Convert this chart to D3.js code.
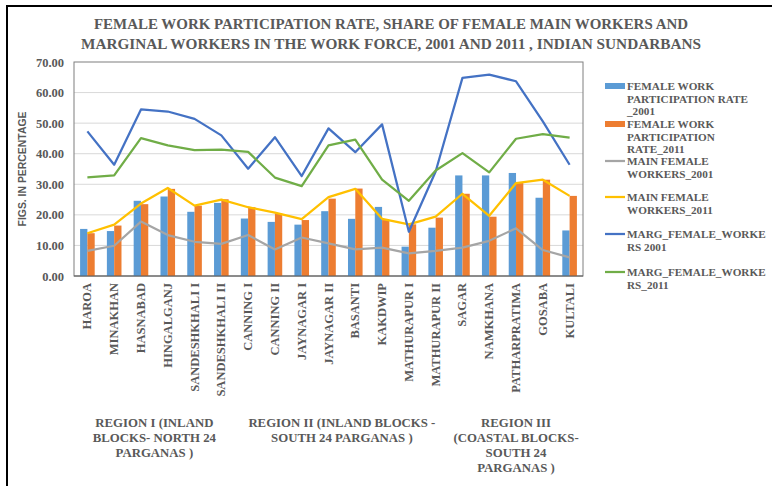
<!DOCTYPE html>
<html>
<head>
<meta charset="utf-8">
<script src="https://cdn.jsdelivr.net/npm/d3@7"></script>
<style>
  body { margin: 0; background: #fff; }
  svg { display: block; }
  text { font-family: "Liberation Serif", "Times New Roman", serif; font-weight: bold; fill: #595959; }
</style>
</head>
<body>
<svg id="chart" width="772" height="486"></svg>
<script>
// blocks of the Indian Sundarbans, in figure order
var categories = ['HAROA', 'MINAKHAN', 'HASNABAD', 'HINGALGANJ', 'SANDESHKHALI I', 'SANDESHKHALI II',
  'CANNING I', 'CANNING II', 'JAYNAGAR I', 'JAYNAGAR II', 'BASANTI', 'KAKDWIP', 'MATHURAPUR I',
  'MATHURAPUR II', 'SAGAR', 'NAMKHANA', 'PATHARPRATIMA', 'GOSABA', 'KULTALI'];

var fwpr2001 = [15.4, 14.7, 24.6, 26.0, 21.0, 23.9, 18.8, 17.7, 16.8, 21.2, 18.7, 22.6, 9.6, 15.8, 32.9, 32.9, 33.7, 25.6, 14.9];
var fwpr2011 = [14.0, 16.5, 23.5, 28.5, 23.0, 25.1, 22.5, 20.4, 18.3, 25.3, 28.6, 18.3, 16.9, 19.1, 26.9, 19.4, 30.4, 31.5, 26.2];
var main2001 = [8.2, 9.9, 17.8, 13.4, 11.2, 10.5, 13.4, 8.7, 12.6, 10.7, 8.7, 9.3, 7.4, 8.2, 9.3, 11.5, 15.6, 8.5, 6.1];
var main2011 = [14.0, 16.8, 23.7, 28.8, 23.0, 25.0, 22.5, 20.7, 18.6, 25.8, 28.5, 18.7, 16.9, 19.4, 26.9, 19.7, 30.4, 31.5, 26.2];
var marg2001 = [47.3, 36.4, 54.5, 53.8, 51.4, 46.0, 35.1, 45.4, 32.7, 48.3, 40.5, 49.6, 14.5, 34.2, 64.8, 65.9, 63.7, 50.6, 36.4];
var marg2011 = [32.3, 32.9, 45.1, 42.7, 41.2, 41.3, 40.6, 32.2, 29.4, 42.7, 44.6, 31.5, 24.6, 34.5, 40.2, 33.9, 44.9, 46.4, 45.3];

var yTicks = [0, 10, 20, 30, 40, 50, 60, 70];

// region groups: first and last block, label lines
var regions = [
  { from: 'HAROA', to: 'SANDESHKHALI II', lines: ['REGION I (INLAND', 'BLOCKS- NORTH 24', 'PARGANAS )'] },
  { from: 'CANNING I', to: 'MATHURAPUR II', lines: ['REGION II (INLAND BLOCKS -', 'SOUTH 24 PARGANAS )'] },
  { from: 'SAGAR', to: 'KULTALI', lines: ['REGION III', '(COASTAL BLOCKS-', 'SOUTH 24', 'PARGANAS )'] }
];

var titleLines = ['FEMALE WORK PARTICIPATION RATE, SHARE OF FEMALE MAIN WORKERS AND',
  'MARGINAL WORKERS IN THE WORK FORCE, 2001 AND 2011 , INDIAN SUNDARBANS'];

var barSeries = [
  { name: ['FEMALE WORK', 'PARTICIPATION RATE', '_2001'], values: fwpr2001, color: '#5B9BD5' },
  { name: ['FEMALE WORK', 'PARTICIPATION', 'RATE_2011'], values: fwpr2011, color: '#ED7D31' }
];
var lineSeries = [
  { name: ['MAIN FEMALE', 'WORKERS_2001'], values: main2001, color: '#A5A5A5' },
  { name: ['MAIN FEMALE', 'WORKERS_2011'], values: main2011, color: '#FFC000' },
  { name: ['MARG_FEMALE_WORKE', 'RS 2001'], values: marg2001, color: '#4472C4' },
  { name: ['MARG_FEMALE_WORKE', 'RS_2011'], values: marg2011, color: '#70AD47' }
];

var svg = d3.select('#chart');
var plotLeft = 74, plotRight = 583, plotTop = 62, plotBottom = 276;

var x = d3.scaleBand().domain(categories).range([plotLeft, plotRight]);
var groupW = 14.6;
var x1 = d3.scaleBand().domain([0, 1])
  .range([(x.bandwidth() - groupW) / 2, (x.bandwidth() + groupW) / 2]);
var y = d3.scaleLinear().domain([0, 70]).range([plotBottom, plotTop]);

// outer frame (top and left only visible)
svg.append('path')
  .attr('d', 'M7,486 V6 H772')
  .attr('fill', 'none')
  .attr('stroke', '#000')
  .attr('stroke-width', 2);

// title
svg.append('g').selectAll('text')
  .data(titleLines)
  .enter()
  .append('text')
  .attr('x', 391)
  .attr('y', function(d, i){ return 29 + i * 20; })
  .attr('text-anchor', 'middle')
  .attr('font-size', 15)
  .attr('textLength', function(d, i){ return i === 0 ? 594 : 620; })
  .attr('lengthAdjust', 'spacingAndGlyphs')
  .text(function(d){ return d; });

// gridlines
svg.append('g').selectAll('line')
  .data(yTicks.slice(1, -1))
  .enter()
  .append('line')
  .attr('x1', plotLeft).attr('x2', plotRight)
  .attr('y1', function(d){ return y(d); })
  .attr('y2', function(d){ return y(d); })
  .attr('stroke', '#d9d9d9')
  .attr('stroke-width', 1);

// plot border
svg.append('rect')
  .attr('x', plotLeft).attr('y', plotTop)
  .attr('width', plotRight - plotLeft).attr('height', plotBottom - plotTop)
  .attr('fill', 'none')
  .attr('stroke', '#7f7f7f')
  .attr('stroke-width', 1);

// y axis
var yAxis = d3.axisLeft(y).tickValues(yTicks).tickFormat(d3.format('.2f')).tickSize(0).tickPadding(10);
var gy = svg.append('g').attr('transform', 'translate(' + plotLeft + ',0)').call(yAxis);
gy.select('.domain').remove();
gy.selectAll('text')
  .attr('font-size', 12.5);

svg.append('text')
  .attr('transform', 'translate(26,169) rotate(-90)')
  .attr('text-anchor', 'middle')
  .style('font-family', '"Liberation Sans", Arial, sans-serif')
  .attr('font-size', 10)
  .attr('textLength', 115)
  .attr('lengthAdjust', 'spacingAndGlyphs')
  .text('FIGS. IN PERCENTAGE');

// bars
barSeries.forEach(function(s, si){
  svg.append('g').selectAll('rect')
    .data(s.values)
    .enter()
    .append('rect')
    .attr('x', function(d, i){ return x(categories[i]) + x1(si); })
    .attr('y', function(d){ return y(d); })
    .attr('width', x1.bandwidth())
    .attr('height', function(d){ return y(0) - y(d); })
    .attr('fill', s.color);
});

// lines
var line = d3.line()
  .x(function(d, i){ return x(categories[i]) + x.bandwidth() / 2; })
  .y(function(d){ return y(d); });
lineSeries.forEach(function(s){
  svg.append('path')
    .datum(s.values)
    .attr('d', line)
    .attr('fill', 'none')
    .attr('stroke', s.color)
    .attr('stroke-width', 2.25)
    .attr('stroke-linejoin', 'round');
});

// x axis line
svg.append('line')
  .attr('x1', plotLeft).attr('x2', plotRight)
  .attr('y1', plotBottom).attr('y2', plotBottom)
  .attr('stroke', '#595959')
  .attr('stroke-width', 1);

// category labels, rotated
var xAxis = d3.axisBottom(x).tickSize(0).tickPadding(0);
var gx = svg.append('g').attr('transform', 'translate(0,' + plotBottom + ')').call(xAxis);
gx.select('.domain').remove();
gx.selectAll('text')
  .attr('font-size', 12.5)
  .attr('text-anchor', 'end')
  .attr('dy', null)
  .attr('y', 0)
  .attr('transform', 'translate(4,7) rotate(-90)');

// region labels
regions.forEach(function(r){
  var cx = (x(r.from) + x(r.to) + x.bandwidth()) / 2;
  svg.append('g').selectAll('text')
    .data(r.lines)
    .enter()
    .append('text')
    .attr('x', cx)
    .attr('y', function(d, i){ return 427 + i * 15; })
    .attr('text-anchor', 'middle')
    .attr('font-size', 12.8)
    .text(function(d){ return d; });
});

// legend
var legendItems = barSeries.map(function(s){ return { name: s.name, color: s.color, bar: true }; })
  .concat(lineSeries.map(function(s){ return { name: s.name, color: s.color, bar: false }; }));
var legendY = [86, 124, 161, 197, 234, 272];
legendItems.forEach(function(d, i){
  var g = svg.append('g').attr('transform', 'translate(605,' + legendY[i] + ')');
  if(d.bar){
    g.append('rect').attr('x', 0).attr('y', -3).attr('width', 20).attr('height', 6).attr('fill', d.color);
  } else {
    g.append('line').attr('x1', 0).attr('x2', 20).attr('y1', 0).attr('y2', 0)
      .attr('stroke', d.color).attr('stroke-width', 2.25);
  }
  g.selectAll('text')
    .data(d.name)
    .enter()
    .append('text')
    .attr('x', 22)
    .attr('y', function(t, j){ return 4 + j * 12.5; })
    .attr('font-size', 11.2)
    .text(function(t){ return t; });
});
</script>
</body>
</html>
